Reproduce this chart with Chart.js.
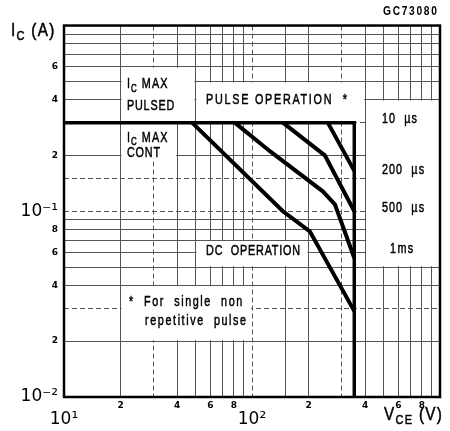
<!DOCTYPE html>
<html>
<head>
<meta charset="utf-8">
<script src="https://cdn.jsdelivr.net/npm/chart.js@4.4.0/dist/chart.umd.min.js"></script>
<style>
  html, body { margin: 0; padding: 0; background: #fff; }
  #caixa { width: 450px; height: 431px; }
</style>
</head>
<body>
<div id="caixa"><canvas id="grafico"></canvas></div>
<script>
// curvas da area de operacao segura (Vce em V, Ic em A)
const limiteX = [10, 350, 350];
const limiteY = [0.3, 0.3, 0.01];
const pulso200X = [253, 350];
const pulso200Y = [0.3, 0.165];
const pulso500X = [146, 244, 350];
const pulso500Y = [0.3, 0.2, 0.1];
const pulso1msX = [81, 125, 238, 276, 350];
const pulso1msY = [0.3, 0.21, 0.128, 0.109, 0.056];
const dcX = [48, 146, 203, 350];
const dcY = [0.3, 0.1, 0.078, 0.029];

// rotulos dos eixos
const ticksX = [10, 20, 40, 60, 80, 100, 200, 400, 600, 800];
const rotulosX = ['10¹', '2', '4', '6', '8', '10²', '2', '4', '6', '8'];
const ticksY = [0.01, 0.02, 0.04, 0.06, 0.08, 0.1, 0.2, 0.4, 0.6];
const rotulosY = ['10⁻²', '2', '4', '6', '8', '10⁻¹', '2', '4', '6'];

const pontos = (xs, ys) => xs.map((v, i) => ({ x: v, y: ys[i] }));
const achar = (lista, v) => lista.findIndex(t => Math.abs(Math.log10(t / v)) < 1e-6);
const decada = v => {
  const e = Math.floor(Math.log10(v) + 1e-9);
  return Math.round(v / Math.pow(10, e));
};

// fonte estreita: Liberation Sans comprimida na horizontal
const FONTE = '"Liberation Sans", Arial, sans-serif';
const ESTREITO = 0.72;

// caixas brancas sobre a grade: [x1, x2, y1, y2] em unidades dos eixos
const caixas = [
  [20, 50, 0.3, 0.6],
  [50, 400, 0.3, 0.5],
  [400, 1000, 0.05, 0.4],
  [20, 40, 0.19, 0.3],
  [50, 200, 0.05, 0.07],
  [20, 100, 0.02, 0.04]
];

// textos dentro do grafico: partes, x, y (unidades dos eixos), tamanho, espacamento
const textos = [
  [[['I'], ['C', 1], [' MAX']], 21.6, 0.483, 15, 1.5],
  [[['PULSED']], 21.6, 0.369, 15, 1.2],
  [[['I'], ['C', 1], [' MAX']], 21.6, 0.249, 15, 1.5],
  [[['CONT']], 21.6, 0.207, 15, 1.2],
  [[['PULSE OPERATION  *']], 57, 0.397, 15, 2.4],
  [[['10  µs']], 491, 0.314, 15, 1.5],
  [[['200  µs']], 491, 0.168, 15, 1.5],
  [[['500  µs']], 491, 0.104, 15, 1.5],
  [[['1ms']], 542, 0.0626, 15, 2],
  [[['DC  OPERATION']], 57, 0.0611, 15, 1.1],
  [[['*  For  single  non']], 22.2, 0.0326, 15, 2.2],
  [[['repetitive  pulse']], 27, 0.0258, 15, 2.2]
];

function escrever(ctx, partes, px, py, tam, espaco, k) {
  let cx = px;
  partes.forEach(p => {
    const sub = p[1];
    ctx.font = (sub ? Math.round(tam * 0.7) : tam) + 'px ' + FONTE;
    ctx.letterSpacing = espaco + 'px';
    const w = ctx.measureText(p[0]).width;
    ctx.save();
    ctx.translate(cx, py + (sub ? tam * 0.3 : 0));
    ctx.scale(k, 1);
    ctx.fillText(p[0], 0, 0);
    ctx.strokeText(p[0], 0, 0); // traco mais grosso, como no original
    ctx.restore();
    cx += w * k;
  });
}

const anotacoes = {
  id: 'anotacoes',
  beforeDatasetsDraw(chart) {
    const { ctx, scales: { x, y } } = chart;
    ctx.save();
    ctx.fillStyle = '#fff';
    caixas.forEach(([x1, x2, y1, y2]) => {
      const l = x.getPixelForValue(x1), r = x.getPixelForValue(x2);
      const t = y.getPixelForValue(y2), b = y.getPixelForValue(y1);
      ctx.fillRect(l + 1, t + 1, r - l - 2, b - t - 2);
    });
    ctx.restore();
  },
  afterDatasetsDraw(chart) {
    const { ctx, chartArea: a, scales: { x, y } } = chart;
    ctx.save();
    // moldura
    ctx.strokeStyle = '#000';
    ctx.lineWidth = 2.5;
    ctx.strokeRect(a.left, a.top, a.right - a.left, a.bottom - a.top);
    ctx.fillStyle = '#000';
    ctx.lineWidth = 0.5;
    ctx.textBaseline = 'middle';
    ctx.textAlign = 'left';
    textos.forEach(([partes, vx, vy, tam, esp]) => {
      escrever(ctx, partes, x.getPixelForValue(vx), y.getPixelForValue(vy), tam, esp, ESTREITO);
    });
    // titulos dos eixos
    escrever(ctx, [['I'], ['C', 1], [' (A)']], 11, 31, 18, 1.5, 0.85);
    escrever(ctx, [['V'], ['CE', 1], [' (V)']], 384, 415, 18, 1.5, 0.85);
    ctx.font = 'bold 12px ' + FONTE;
    ctx.letterSpacing = '2px';
    ctx.save();
    ctx.translate(383, 12);
    ctx.scale(0.85, 1);
    ctx.fillText('GC73080', 0, 0);
    ctx.restore();
    ctx.restore();
  }
};

const linha = (dados, largura) => ({
  data: dados,
  borderColor: '#000',
  borderWidth: largura,
  pointRadius: 0,
  fill: false,
  tension: 0
});

const tracejado = ctx => {
  if (!ctx.tick) return [];
  const m = decada(ctx.tick.value);
  return (m === 1 || m === 3) ? [5, 3] : [];
};

const fonteTick = ctx => {
  const v = ctx.tick ? ctx.tick.value : 1;
  return decada(v) === 1
    ? { family: '"DejaVu Sans", sans-serif', size: 17, lineHeight: 2.3 }
    : { family: '"DejaVu Sans", sans-serif', size: 9, weight: 'bold', lineHeight: 1.2 };
};

const config = {
  type: 'line',
  data: {
    datasets: [
      linha(pontos(limiteX, limiteY), 3.5),
      linha(pontos(pulso200X, pulso200Y), 4),
      linha(pontos(pulso500X, pulso500Y), 4),
      linha(pontos(pulso1msX, pulso1msY), 4),
      linha(pontos(dcX, dcY), 4)
    ]
  },
  options: {
    responsive: false,
    animation: false,
    layout: { padding: { top: 23, right: 10, left: 0, bottom: 0 } },
    plugins: { legend: { display: false }, tooltip: { enabled: false } },
    scales: {
      x: {
        type: 'logarithmic',
        min: 10,
        max: 1000,
        grid: { color: '#555', lineWidth: 1, drawTicks: false },
        border: { display: false, dash: tracejado },
        ticks: {
          autoSkip: false,
          maxRotation: 0,
          padding: 3,
          color: '#000',
          font: fonteTick,
          callback: v => {
            const i = achar(ticksX, v);
            return i < 0 ? '' : rotulosX[i];
          }
        },
        afterFit: s => { s.height = 34; }
      },
      y: {
        type: 'logarithmic',
        min: 0.01,
        max: 1,
        grid: { color: '#555', lineWidth: 1, drawTicks: false },
        border: { display: false, dash: tracejado },
        ticks: {
          autoSkip: false,
          padding: 6,
          color: '#000',
          font: fonteTick,
          callback: v => {
            const i = achar(ticksY, v);
            return i < 0 ? '' : rotulosY[i];
          }
        },
        afterFit: s => { s.width = 64; }
      }
    }
  },
  plugins: [anotacoes]
};

const canvas = document.getElementById('grafico');
canvas.width = 450;
canvas.height = 431;
const grafico = new Chart(canvas.getContext('2d'), config);
</script>
</body>
</html>
